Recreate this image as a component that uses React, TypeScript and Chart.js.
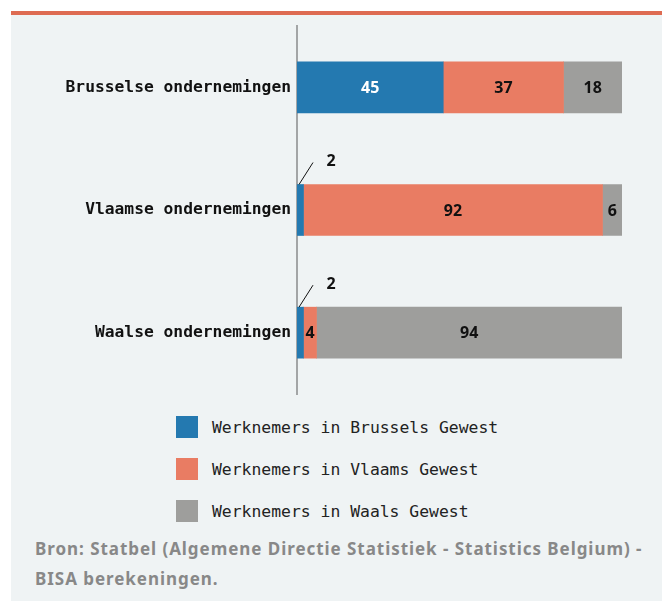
import React, { useEffect, useRef } from "react";
import { Chart, registerables } from "chart.js";

Chart.register(...registerables);

const categories = ["Brusselse ondernemingen", "Vlaamse ondernemingen", "Waalse ondernemingen"];
const brussels = [45, 2, 2];
const vlaams = [37, 92, 4];
const waals = [18, 6, 94];
const seriesNames = [
  "Werknemers in Brussels Gewest",
  "Werknemers in Vlaams Gewest",
  "Werknemers in Waals Gewest",
];
const colors = ["#2479b0", "#e97c63", "#9e9e9c"];
const labelColors = ["#ffffff", "#111111", "#111111"];
const source = [
  "Bron: Statbel (Algemene Directie Statistiek - Statistics Belgium) -",
  "BISA berekeningen.",
];

const valueLabels = {
  id: "valueLabels",
  afterDatasetsDraw(chart: any) {
    const ctx = chart.ctx;
    ctx.save();
    ctx.font = "bold 16px 'Noto Sans'";
    ctx.textAlign = "center";
    ctx.textBaseline = "middle";
    chart.data.datasets.forEach((ds: any, i: number) => {
      const meta = chart.getDatasetMeta(i);
      meta.data.forEach((el: any, j: number) => {
        const v = ds.data[j];
        const props = el.getProps(["x", "y", "base", "height"], true);
        if (v >= 3) {
          ctx.fillStyle = labelColors[i];
          ctx.fillText(String(v), (props.x + props.base) / 2, props.y + 1);
        } else {
          const top = props.y - props.height / 2;
          const sx = props.base + 2;
          ctx.strokeStyle = "#111";
          ctx.lineWidth = 1;
          ctx.beginPath();
          ctx.moveTo(sx, top);
          ctx.lineTo(sx + 14, top - 22);
          ctx.stroke();
          ctx.fillStyle = "#111";
          ctx.fillText(String(v), sx + 32, top - 23);
        }
      });
    });
    ctx.restore();
  },
};

export default function App() {
  const ref = useRef<HTMLCanvasElement | null>(null);
  useEffect(() => {
    if (!ref.current) return;
    const chart = new Chart(ref.current, {
      type: "bar",
      data: {
        labels: categories,
        datasets: [brussels, vlaams, waals].map((d, i) => ({
          label: seriesNames[i],
          data: d,
          backgroundColor: colors[i],
          borderWidth: 0,
          barThickness: 51,
        })),
      },
      options: {
        indexAxis: "y",
        animation: false,
        responsive: false,
        maintainAspectRatio: false,
        layout: { padding: { top: 11, bottom: 11, left: 0, right: 40 } },
        plugins: { legend: { display: false }, tooltip: { enabled: false } },
        scales: {
          x: { stacked: true, min: 0, max: 100, display: false },
          y: {
            stacked: true,
            grid: { display: false, drawTicks: false },
            border: { display: true, color: "#a3a5a6", width: 2 },
            ticks: {
              padding: 6,
              color: "#111",
              font: { family: "'DejaVu Sans Mono'", size: 16.3, weight: "bold" },
            },
            afterFit(scale: any) {
              scale.width = 286;
              scale.paddingTop = 0;
              scale.paddingBottom = 0;
            },
          },
        },
      },
      plugins: [valueLabels],
    } as any);
    return () => chart.destroy();
  }, []);

  return (
    <div style={{ position: "absolute", left: 0, top: 0, width: 662, height: 601, background: "#fff", overflow: "hidden" }}>
      <div style={{ position: "absolute", left: 11, top: 11, width: 651, height: 4, background: "#de6b52" }} />
      <div style={{ position: "absolute", left: 11, top: 15, width: 651, height: 586, background: "#eff3f4" }}>
        <canvas ref={ref} width={651} height={390} style={{ position: "absolute", left: 0, top: 0, width: 651, height: 390 }} />
        {seriesNames.map((n, i) => (
          <div key={n} style={{ position: "absolute", left: 165, top: 401 + i * 42, height: 22, display: "flex", alignItems: "center" }}>
            <div style={{ width: 22, height: 22, background: colors[i] }} />
            <span style={{ marginLeft: 14, fontFamily: "'DejaVu Sans Mono'", fontSize: 16.4, color: "#222", whiteSpace: "nowrap" }}>{n}</span>
          </div>
        ))}
        <div style={{ position: "absolute", left: 24, top: 519, fontFamily: "'Noto Sans'", fontWeight: 700, fontSize: 17, lineHeight: "30px", letterSpacing: "0.95px", color: "#888", whiteSpace: "nowrap" }}>
          {source.map((s) => (
            <div key={s}>{s}</div>
          ))}
        </div>
      </div>
    </div>
  );
}
